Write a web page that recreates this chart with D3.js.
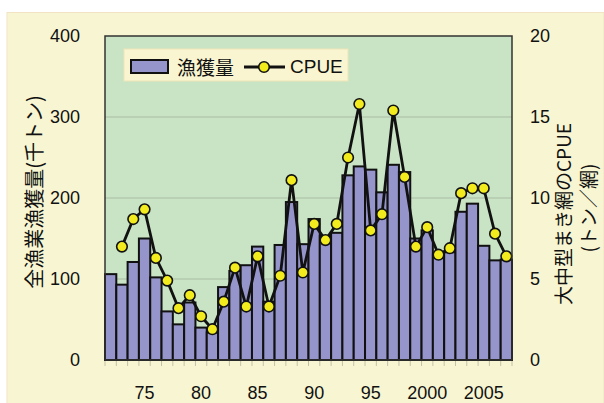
<!DOCTYPE html>
<html>
<head>
<meta charset="utf-8">
<script src="https://cdn.jsdelivr.net/npm/d3@7"></script>
<style>
  body { margin: 0; background: #fff; }
  svg { display: block; }
  .num { font-family: "Liberation Sans", Arial, sans-serif; font-size: 18px; fill: #111; }
  .jp { font-family: "Noto Sans CJK JP", sans-serif; fill: #111; }
</style>
</head>
<body>
<div id="chart"></div>
<script>
// 年 (1972-2007)
const years = d3.range(1972, 2008)
// 全漁業漁獲量 (千トン)
const catchValues = [106, 93, 121, 150, 102, 60, 44, 71, 40, 34, 90, 110, 117, 140, 72, 142, 195, 143,
  174, 153, 157, 228, 239, 235, 207, 241, 232, 150, 160, 130, 133, 183, 193, 141, 123, 124]
// 大中型まき網のCPUE (トン/網)
const cpueValues = [null, 7.0, 8.7, 9.3, 6.3, 4.9, 3.2, 4.0, 2.7, 1.9, 3.6, 5.7, 3.3, 6.4, 3.3, 5.2, 11.1, 5.4,
  8.4, 7.4, 8.4, 12.5, 15.8, 8.0, 9.0, 15.4, 11.3, 7.0, 8.2, 6.5, 6.9, 10.3, 10.6, 10.6, 7.8, 6.4]
const xTickYears = [1975, 1980, 1985, 1990, 1995, 2000, 2005]
const leftTicks = [0, 100, 200, 300, 400]
const rightTicks = [0, 5, 10, 15, 20]

const W = 604, H = 403
const plot = { left: 105, right: 512, top: 36, bottom: 360 }

const svg = d3.select('#chart').append('svg')
  .attr('width', W)
  .attr('height', H)

// 外枠
svg.append('rect')
  .attr('x', 7).attr('y', 12.5)
  .attr('width', W - 7).attr('height', H - 12)
  .attr('fill', '#f8f6d2')
  .attr('stroke', '#f1e3c4')

const x = d3.scaleBand()
  .domain(years)
  .range([plot.left, plot.right])
  .padding(0)
const yL = d3.scaleLinear().domain([0, 400]).range([plot.bottom, plot.top])
const yR = d3.scaleLinear().domain([0, 20]).range([plot.bottom, plot.top])

// 背景
svg.append('rect')
  .attr('x', plot.left).attr('y', plot.top)
  .attr('width', plot.right - plot.left).attr('height', plot.bottom - plot.top)
  .attr('fill', '#c9e4c4')

// グリッド
svg.append('g')
  .selectAll('line')
  .data(leftTicks.slice(1, -1))
  .join('line')
  .attr('x1', plot.left).attr('x2', plot.right)
  .attr('y1', d => yL(d)).attr('y2', d => yL(d))
  .attr('stroke', '#a9bba3')
  .attr('stroke-width', 1.2)

// 棒
svg.append('g')
  .selectAll('rect')
  .data(years)
  .join('rect')
  .attr('x', d => x(d))
  .attr('y', (d, i) => yL(catchValues[i]))
  .attr('width', x.bandwidth())
  .attr('height', (d, i) => yL(0) - yL(catchValues[i]))
  .attr('fill', '#9595cb')
  .attr('stroke', '#111')
  .attr('stroke-width', 2)

// 折れ線
const pts = years.map((yr, i) => ({ yr, v: cpueValues[i] })).filter(d => d.v != null)
const line = d3.line()
  .x(d => x(d.yr) + x.bandwidth() / 2)
  .y(d => yR(d.v))
svg.append('path')
  .datum(pts)
  .attr('d', line)
  .attr('fill', 'none')
  .attr('stroke', '#111')
  .attr('stroke-width', 2.8)
  .attr('stroke-linejoin', 'round')
svg.append('g')
  .selectAll('circle')
  .data(pts)
  .join('circle')
  .attr('cx', d => x(d.yr) + x.bandwidth() / 2)
  .attr('cy', d => yR(d.v))
  .attr('r', 5.3)
  .attr('fill', '#f2ec1e')
  .attr('stroke', '#111')
  .attr('stroke-width', 1.6)

// 枠
svg.append('rect')
  .attr('x', plot.left).attr('y', plot.top)
  .attr('width', plot.right - plot.left).attr('height', plot.bottom - plot.top)
  .attr('fill', 'none')
  .attr('stroke', '#333')
  .attr('stroke-width', 1.5)

// 小目盛り
svg.append('g')
  .selectAll('line')
  .data(years.concat([2008]))
  .join('line')
  .attr('x1', d => d === 2008 ? plot.right : x(d))
  .attr('x2', d => d === 2008 ? plot.right : x(d))
  .attr('y1', plot.bottom + 1).attr('y2', plot.bottom + 6)
  .attr('stroke', '#c4c0a8')
  .attr('stroke-width', 1)

// x 軸
const xAxis = d3.axisBottom(x)
  .tickValues(xTickYears)
  .tickSize(0)
  .tickPadding(26)
  .tickFormat(d => d < 2000 ? String(d).slice(2) : String(d))
svg.append('g')
  .attr('transform', `translate(0, ${plot.bottom})`)
  .call(xAxis)
  .call(g => g.select('.domain').remove())
  .selectAll('text').attr('class', 'num').attr('fill', null)

// 左軸
svg.append('g')
  .attr('transform', `translate(${plot.left}, 0)`)
  .call(d3.axisLeft(yL).tickValues(leftTicks).tickSize(0).tickPadding(25))
  .call(g => g.select('.domain').remove())
  .selectAll('text').attr('class', 'num').attr('fill', null)

// 右軸
svg.append('g')
  .attr('transform', `translate(${plot.right}, 0)`)
  .call(d3.axisRight(yR).tickValues(rightTicks).tickSize(0).tickPadding(18))
  .call(g => g.select('.domain').remove())
  .selectAll('text').attr('class', 'num').attr('fill', null)

// 軸タイトル
svg.append('text')
  .attr('class', 'jp')
  .attr('transform', 'translate(33, 192) rotate(-90)')
  .attr('text-anchor', 'middle')
  .attr('dominant-baseline', 'central')
  .style('font-size', '20px')
  .text('全漁業漁獲量(千トン)')
svg.append('text')
  .attr('class', 'jp')
  .attr('transform', 'translate(562, 214) rotate(-90)')
  .attr('text-anchor', 'middle')
  .attr('dominant-baseline', 'central')
  .style('font-size', '19px')
  .text('大中型まき網のCPUE')
svg.append('text')
  .attr('class', 'jp')
  .attr('transform', 'translate(587, 208) rotate(-90)')
  .attr('text-anchor', 'middle')
  .attr('dominant-baseline', 'central')
  .style('font-size', '19px')
  .text('(トン／網)')

// 凡例
const lg = svg.append('g')
lg.append('rect')
  .attr('x', 124).attr('y', 49)
  .attr('width', 224).attr('height', 32)
  .attr('fill', '#f8f5d0')
  .attr('stroke', '#efe4b8')
lg.append('rect')
  .attr('x', 131).attr('y', 60)
  .attr('width', 37).attr('height', 13)
  .attr('fill', '#9595cb')
  .attr('stroke', '#111')
  .attr('stroke-width', 2)
lg.append('text')
  .attr('class', 'jp')
  .attr('x', 177).attr('y', 66)
  .attr('dominant-baseline', 'central')
  .style('font-size', '19px')
  .text('漁獲量')
lg.append('line')
  .attr('x1', 244).attr('x2', 285)
  .attr('y1', 67).attr('y2', 67)
  .attr('stroke', '#111')
  .attr('stroke-width', 2.8)
lg.append('circle')
  .attr('cx', 264).attr('cy', 67).attr('r', 5.3)
  .attr('fill', '#f2ec1e')
  .attr('stroke', '#111')
  .attr('stroke-width', 1.6)
lg.append('text')
  .attr('class', 'num')
  .attr('x', 290).attr('y', 66)
  .attr('dominant-baseline', 'central')
  .style('font-size', '19px')
  .text('CPUE')
</script>
</body>
</html>
